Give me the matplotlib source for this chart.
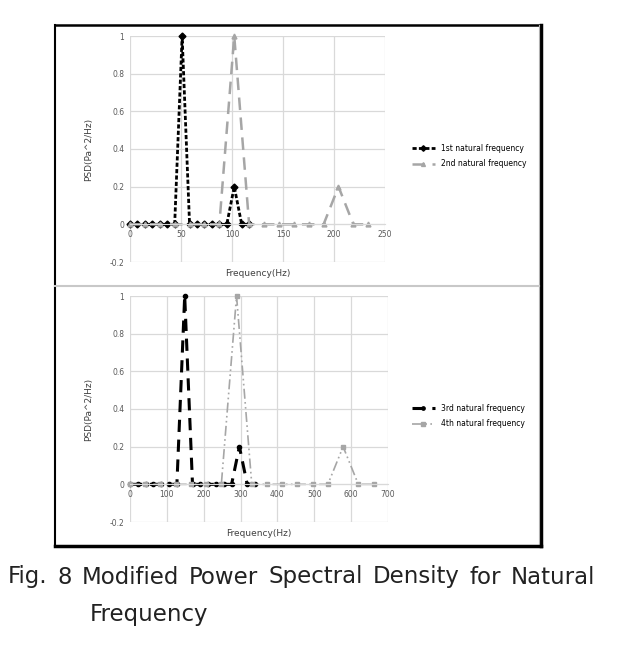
import matplotlib
matplotlib.use("Agg")
import matplotlib.pyplot as plt
from matplotlib.lines import Line2D

# --- data ---
freq_1st = [0, 7.3, 14.6, 21.9, 29.2, 36.5, 43.8, 51.1, 58.4, 65.7, 73.0, 80.3, 87.6, 94.9, 102.2, 109.5, 116.8]
psd_1st = [0, 0, 0, 0, 0, 0, 0, 1, 0, 0, 0, 0, 0, 0, 0.2, 0, 0]
freq_2nd = [0, 14.6, 29.2, 43.8, 58.4, 73.0, 87.6, 102.2, 116.8, 131.4, 146.0, 160.6, 175.2, 189.8, 204.4, 219.0, 233.6]
psd_2nd = [0, 0, 0, 0, 0, 0, 0, 1, 0, 0, 0, 0, 0, 0, 0.2, 0, 0]
freq_3rd = [0, 21.2, 42.4, 63.6, 84.8, 106.0, 127.2, 148.4, 169.6, 190.8, 212.0, 233.2, 254.4, 275.6, 296.8, 318.0, 339.2]
psd_3rd = [0, 0, 0, 0, 0, 0, 0, 1, 0, 0, 0, 0, 0, 0, 0.2, 0, 0]
freq_4th = [0, 41.3, 82.6, 123.9, 165.2, 206.5, 247.8, 289.1, 330.4, 371.7, 413.0, 454.3, 495.6, 536.9, 578.2, 619.5, 660.8]
psd_4th = [0, 0, 0, 0, 0, 0, 0, 1, 0, 0, 0, 0, 0, 0, 0.2, 0, 0]

yticks = [-0.2, 0, 0.2, 0.4, 0.6, 0.8, 1]
ytick_labels = ["-0.2", "0", "0.2", "0.4", "0.6", "0.8", "1"]
xticks_top = [0, 50, 100, 150, 200, 250]
xticks_bot = [0, 100, 200, 300, 400, 500, 600, 700]
caption_words = ["Fig.", "8", "Modified", "Power", "Spectral", "Density", "for", "Natural"]

W, H = 619, 651
fig = plt.figure(figsize=(W / 100, H / 100), dpi=100)
fig.patch.set_facecolor("white")

tick_col = "#595959"
grid_col = "#d9d9d9"
gray = "#a6a6a6"


def px_axes(left, top, right, bottom):
    return fig.add_axes([left / W, 1 - bottom / H, (right - left) / W, (bottom - top) / H])


def style(ax, xticks):
    ax.set_xlim(xticks[0], xticks[-1])
    ax.set_ylim(-0.2, 1)
    ax.set_xticks(xticks)
    ax.set_yticks(yticks)
    ax.set_yticklabels(ytick_labels)
    ax.grid(True, color=grid_col, lw=0.9)
    ax.set_axisbelow(True)
    for s in ["top", "right", "left"]:
        ax.spines[s].set_visible(False)
    ax.spines["bottom"].set_position(("data", 0))
    ax.spines["bottom"].set_color(grid_col)
    ax.tick_params(axis="both", length=0, labelsize=5.5, labelcolor=tick_col, pad=4)
    ax.set_ylabel("PSD(Pa^2/Hz)", fontsize=6.5, color="#404040", labelpad=12)


# top chart
ax1 = px_axes(130, 36, 385, 262)
style(ax1, xticks_top)
ax1.plot(freq_1st, psd_1st, color="black", lw=2, ls=(0, (1.5, 0.8)), marker="D", ms=3.5,
         label="1st natural frequency", clip_on=False)
ax1.plot(freq_2nd, psd_2nd, color=gray, lw=1.8, ls=(0, (5, 3)), marker="^", ms=3.5,
         label="2nd natural frequency", clip_on=False)
ax1.text(0.5, -0.03, "Frequency(Hz)", transform=ax1.transAxes, ha="center", va="top",
         fontsize=6.5, color="#404040")
ax1.legend(loc="center left", bbox_to_anchor=(405 / W, 1 - 156 / H), bbox_transform=fig.transFigure,
           frameon=False, fontsize=5.5, handlelength=3, markerscale=0.8, labelspacing=0.9)

# bottom chart
ax2 = px_axes(130, 296, 388, 522)
style(ax2, xticks_bot)
ax2.plot(freq_3rd, psd_3rd, color="black", lw=2.2, ls=(0, (4, 2.5)), marker="o", ms=3,
         label="3rd natural frequency", clip_on=False)
ax2.plot(freq_4th, psd_4th, color=gray, lw=1.2, ls=(0, (6, 2, 1, 2, 1, 2)), marker="s", ms=3.5,
         label="4th natural frequency", clip_on=False)
ax2.text(0.5, -0.03, "Frequency(Hz)", transform=ax2.transAxes, ha="center", va="top",
         fontsize=6.5, color="#404040")
ax2.legend(loc="center left", bbox_to_anchor=(405 / W, 1 - 416 / H), bbox_transform=fig.transFigure,
           frameon=False, fontsize=5.5, handlelength=3, markerscale=0.8, labelspacing=0.9)

# frame around the two charts
def fline(x0, y0, x1, y1, **kw):
    fig.add_artist(Line2D([x0 / W, x1 / W], [1 - y0 / H, 1 - y1 / H], transform=fig.transFigure, **kw))

fline(55, 25, 541, 25, color="black", lw=1.8)
fline(55, 25, 55, 546, color="black", lw=1.5)
fline(541, 25, 541, 546, color="black", lw=2.5)
fline(539, 25, 539, 546, color="#b0b0b0", lw=0.8)
fline(55, 546, 541, 546, color="black", lw=2.5)
fline(55, 286, 539, 286, color="#c8c8c8", lw=1.5)

# caption, justified between x=8 and x=595 like the original
cap_kw = dict(fontsize=16.5, va="center", ha="left", color="#222222")
renderer = fig.canvas.get_renderer()
words = [fig.text(0, 1 - 577 / H, w, **cap_kw) for w in caption_words]
widths = [t.get_window_extent(renderer).width for t in words]
gap = (595 - 8 - sum(widths)) / (len(words) - 1)
x = 8
for t, w in zip(words, widths):
    t.set_x(x / W)
    x += w + gap
fig.text(90 / W, 1 - 615 / H, "Frequency", **cap_kw)

fig.savefig("out.png", dpi=100)
